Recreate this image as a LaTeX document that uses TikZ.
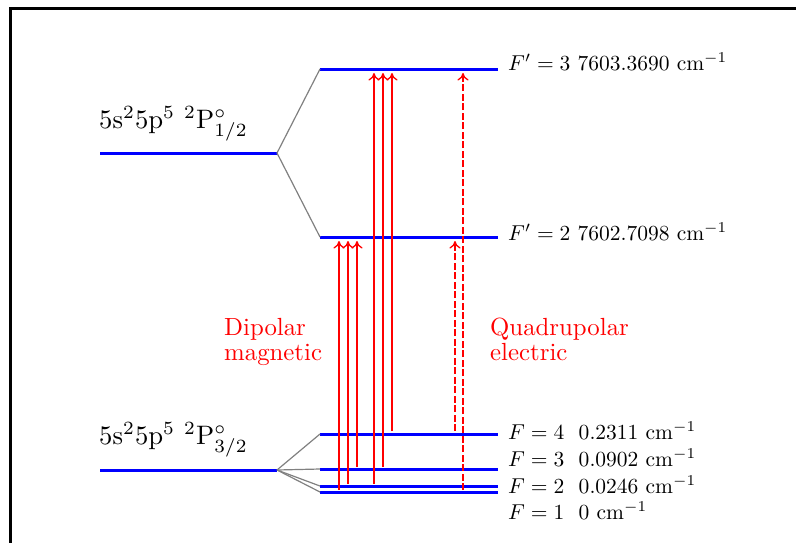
\documentclass[tikz,border=0pt]{standalone}
\usepackage{graphicx}
\usetikzlibrary{arrows.meta}
\newcommand{\lvltxt}[1]{\scalebox{2.15}{#1}}
\newcommand{\cfgtxt}[1]{\scalebox{2.67}{#1}}
\newcommand{\notetxt}[1]{\scalebox{2.48}{#1}}
\begin{document}
\begin{tikzpicture}[x=1pt,y=-1pt,
  lvl/.style={blue, line width=3pt},
  link/.style={gray, line width=1.2pt},
  trans/.style={red, line width=1.3pt, -{To[length=7.5pt,width=11pt]}},
  quad/.style={trans, dash pattern=on 7pt off 2.5pt},
  lbl/.style={anchor=base west, inner sep=0pt, font=\fontsize{10}{12}\selectfont},
  big/.style={anchor=base west, inner sep=0pt, font=\fontsize{10}{12}\selectfont},
  note/.style={anchor=base west, inner sep=0pt, red, font=\fontsize{10}{12}\selectfont},
  frame/.style={black, line width=3pt}
]
\useasboundingbox (0,0) rectangle (796,542);
\clip (0,0) rectangle (796,542);
% frame
\coordinate (fTL) at (10.5,8);
\coordinate (fTR) at (800,8);
\coordinate (fBL) at (10.5,546);
\draw[frame] (fBL) -- (fTL) -- (fTR);

% fine-structure levels
\coordinate (Pu0) at (100,153);
\coordinate (Pu1) at (277,153);
\coordinate (Pl0) at (100,470);
\coordinate (Pl1) at (277,470);
\draw[lvl] (Pu0) -- (Pu1);
\draw[lvl] (Pl0) -- (Pl1);

% hyperfine levels
\coordinate (G3a) at (320,69);  \coordinate (G3b) at (498,69);
\coordinate (G2a) at (320,237); \coordinate (G2b) at (498,237);
\coordinate (F4a) at (320,434); \coordinate (F4b) at (498,434);
\coordinate (F3a) at (320,469); \coordinate (F3b) at (498,469);
\coordinate (F2a) at (320,486); \coordinate (F2b) at (498,486);
\coordinate (F1a) at (320,492); \coordinate (F1b) at (498,492);
\foreach \l in {G3,G2,F4,F3,F2,F1} \draw[lvl] (\l a) -- (\l b);

% connectors
\draw[link] (Pu1) -- (G3a);
\draw[link] (Pu1) -- (G2a);
\draw[link] (Pl1) -- (F4a);
\draw[link] (Pl1) -- (F3a);
\draw[link] (Pl1) -- (F2a);
\draw[link] (Pl1) -- (F1a);

% labels
\node[big] (lu) at (99,128) {\cfgtxt{5s$^2$5p$^5$ $^2$P$^\circ_{1/2}$}};
\node[big] (ll) at (99,444) {\cfgtxt{5s$^2$5p$^5$ $^2$P$^\circ_{3/2}$}};
\node[lbl] (tG3) at (508,70) {\lvltxt{$F'=3$ $7603.3690~\mathrm{cm}^{-1}$}};
\node[lbl] (tG2) at (508,240) {\lvltxt{$F'=2$ $7602.7098~\mathrm{cm}^{-1}$}};
\node[lbl] (tF4) at (508,439) {\lvltxt{$F=4$\ \ $0.2311~\mathrm{cm}^{-1}$}};
\node[lbl] (tF3) at (508,466) {\lvltxt{$F=3$\ \ $0.0902~\mathrm{cm}^{-1}$}};
\node[lbl] (tF2) at (508,493) {\lvltxt{$F=2$\ \ $0.0246~\mathrm{cm}^{-1}$}};
\node[lbl] (tF1) at (508,519.5) {\lvltxt{$F=1$\ \ $0~\mathrm{cm}^{-1}$}};
\node[note] (d1) at (224,335) {\notetxt{Dipolar}};
\node[note] (d2) at (224,360) {\notetxt{magnetic}};
\node[note] (q1) at (490,335) {\notetxt{Quadrupolar}};
\node[note] (q2) at (490,360) {\notetxt{electric}};

% transitions: dipolar magnetic
\coordinate (m1b) at (339,490); \coordinate (m1t) at (339,241);
\coordinate (m2b) at (348,484); \coordinate (m2t) at (348,241);
\coordinate (m3b) at (357,467); \coordinate (m3t) at (357,241);
\coordinate (m4b) at (374,484); \coordinate (m4t) at (374,73);
\coordinate (m5b) at (383,467); \coordinate (m5t) at (383,73);
\coordinate (m6b) at (392,431); \coordinate (m6t) at (392,73);
\foreach \i in {1,...,6} \draw[trans] (m\i b) -- (m\i t);

% transitions: quadrupolar electric
\coordinate (e1b) at (455,431); \coordinate (e1t) at (455,241);
\coordinate (e2b) at (463,490); \coordinate (e2t) at (463,73);
\draw[quad] (e1b) -- (e1t);
\draw[quad] (e2b) -- (e2t);
\end{tikzpicture}
\end{document}
